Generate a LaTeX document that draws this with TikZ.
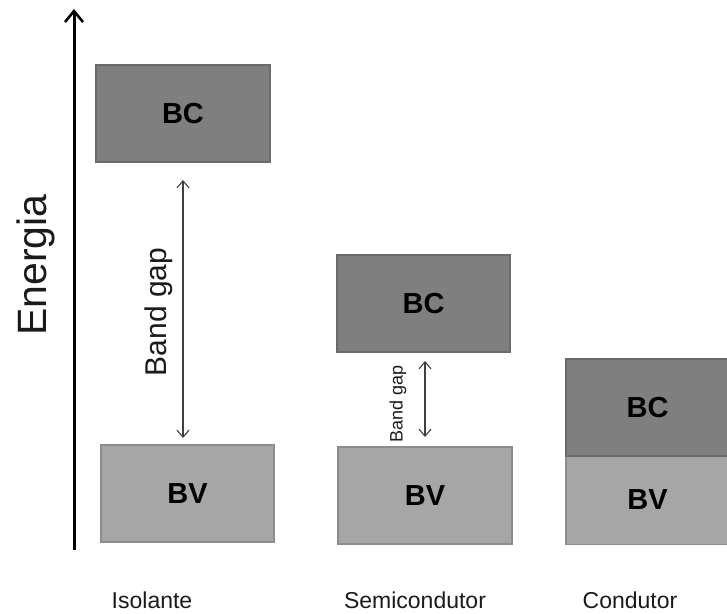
\documentclass[tikz,border=0pt]{standalone}
\usepackage{fontspec}
\setmainfont{Liberation Sans}
\usetikzlibrary{arrows.meta}
\definecolor{bcfill}{HTML}{7F7F7F}
\definecolor{bcdraw}{HTML}{6A6A6A}
\definecolor{bvfill}{HTML}{A6A6A6}
\definecolor{bvdraw}{HTML}{8C8C8C}
\definecolor{txt}{HTML}{1A1A1A}
\tikzset{
  band/.style={rectangle, inner sep=0pt, line width=1.5pt, text=black,
    font=\fontsize{29}{30}\selectfont\bfseries},
  bcbox/.style={band, fill=bcfill, draw=bcdraw},
  bvbox/.style={band, fill=bvfill, draw=bvdraw},
  matlabel/.style={font=\fontsize{23}{24}\selectfont, text=txt},
  gaparrow/.style={{Straight Barb[length=7pt,width=12pt]}-{Straight Barb[length=7pt,width=12pt]}, line width=1.1pt, draw=black!75},
}
\begin{document}
\begin{tikzpicture}[x=1pt,y=-1pt]
\useasboundingbox (0,0) rectangle (727,613);
% energy axis
\coordinate (ax0) at (74,550);
\coordinate (ax1) at (74,9);
\draw[line width=3pt, -{Straight Barb[length=11pt,width=18pt,line width=2.6pt]}] (ax0) -- (ax1);
\node[rotate=90, font=\fontsize{41}{42}\selectfont, text=txt] (energia) at (36,265) {Energia};
% Isolante
\node[bcbox, minimum width=174pt, minimum height=97pt] (ibc) at (183,113.5) {BC};
\node[bvbox, minimum width=173pt, minimum height=97pt] (ibv) at (187.5,493.5) {BV};
\coordinate (ig1) at (183,180);
\coordinate (ig0) at (183,438);
\draw[gaparrow] (ig0) -- (ig1);
\node[rotate=90, font=\fontsize{30}{31}\selectfont, text=txt] (igl) at (159,312) {Band gap};
% Semicondutor
\node[bcbox, minimum width=173pt, minimum height=97pt] (sbc) at (423.5,303.5) {BC};
\node[bvbox, minimum width=174pt, minimum height=97pt] (sbv) at (425,495.5) {BV};
\coordinate (sg1) at (425,361);
\coordinate (sg0) at (425,437);
\draw[gaparrow] (sg0) -- (sg1);
\node[rotate=90, font=\fontsize{18}{19}\selectfont, text=txt] (sgl) at (398,404) {Band gap};
% Condutor
\node[bvbox, minimum width=163pt, minimum height=89pt] (cbv) at (647.5,500) {BV};
\node[bcbox, minimum width=163pt, minimum height=97pt] (cbc) at (647.5,407.5) {BC};
% labels
\node[matlabel] (liso) at (152,600) {Isolante};
\node[matlabel] (lsemi) at (415,600) {Semicondutor};
\node[matlabel] (lcond) at (630,600) {Condutor};
\end{tikzpicture}
\end{document}
